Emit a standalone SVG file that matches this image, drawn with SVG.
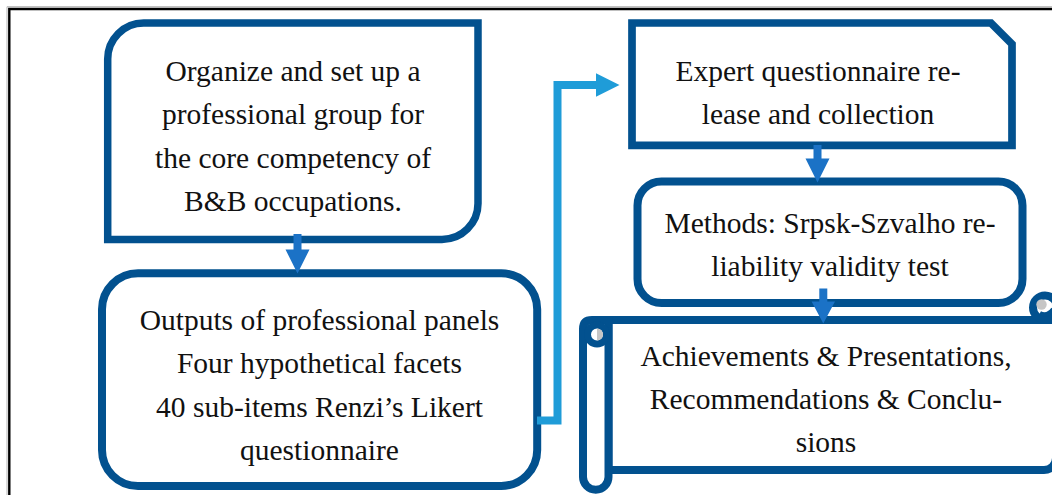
<svg xmlns="http://www.w3.org/2000/svg" width="1052" height="495" viewBox="0 0 1052 495">
  <style>
    .frame-shade { fill: none; stroke: #b4b4b4; stroke-width: 1; }
    .frame { fill: none; stroke: #000; stroke-width: 2.4; }
    .box { fill: #fff; stroke: #02518f; stroke-width: 8; stroke-linejoin: miter; }
    .label { font-family: "Liberation Serif", "Times New Roman", serif; font-size: 29.5px; fill: #111; text-anchor: middle; }
    .flow { fill: #1b72c6; }
    .feed { fill: none; stroke: #1f9cd8; stroke-width: 8; stroke-linejoin: miter; }
    .feed-head { fill: #1f9cd8; }
    .curl-shade { fill: #c6c6c6; }
  </style>

  <rect width="1052" height="495" fill="#fff"/>

  <!-- outer frame -->
  <path class="frame-shade" d="M7,495 V6.7 H1052"/>
  <path class="frame" d="M9.3,495 V9 H1052"/>

  <!-- step 1: expert group -->
  <g id="node-organize">
    <path class="box" style="stroke-width:7.5" d="M107.7,59 A36,36 0 0 1 143.7,23 H478 V203.5 A36,36 0 0 1 442,239.5 H107.7 Z"/>
    <text class="label" x="293" y="81">Organize and set up a</text>
    <text class="label" x="293" y="124.3">professional group for</text>
    <text class="label" x="293" y="167.7">the core competency of</text>
    <text class="label" x="293" y="211">B&amp;B occupations.</text>
  </g>

  <!-- step 2: panel outputs -->
  <g id="node-outputs">
    <rect class="box" x="102" y="273.3" width="435.2" height="212.7" rx="36" ry="36"/>
    <text class="label" x="319.5" y="329.5">Outputs of professional panels</text>
    <text class="label" x="319.5" y="373">Four hypothetical facets</text>
    <text class="label" x="319.5" y="416.5">40 sub-items Renzi’s Likert</text>
    <text class="label" x="319.5" y="460">questionnaire</text>
  </g>

  <!-- step 3: questionnaire release -->
  <g id="node-release">
    <path class="box" style="stroke-width:7.7" d="M632,23 H991 L1012,44 V145.3 H632 Z"/>
    <text class="label" x="818" y="80.5">Expert questionnaire re-</text>
    <text class="label" x="818" y="123.5">lease and collection</text>
  </g>

  <!-- step 4: reliability / validity methods -->
  <g id="node-methods">
    <rect class="box" x="637.5" y="181.5" width="385" height="121.5" rx="24" ry="24"/>
    <text class="label" x="830" y="232.5">Methods: Srpsk-Szvalho re-</text>
    <text class="label" x="830" y="276">liability validity test</text>
  </g>

  <!-- step 5: results scroll -->
  <g id="node-results">
    <path class="box" d="M608.5,320 H1056 V458 A12,12 0 0 1 1044,470 H608.5 Z"/>
    <path class="box" d="M608.5,320 H592 Q583,320 583,329 V477 A12.75,12.75 0 0 0 608.5,477 Z"/>
    <circle class="box" style="stroke-width:7" cx="597" cy="334.5" r="9.5"/>
    <path class="curl-shade" d="M597,328.5 A6,6 0 0 1 597,340.5 Z"/>
    <circle class="box" cx="1045" cy="307.5" r="12"/>
    <circle class="curl-shade" cx="1041.5" cy="304.5" r="5.2"/>
    <path d="M1040,313 Q1047,317 1053,309" fill="none" stroke="#02518f" stroke-width="4"/>
    <text class="label" x="826" y="366">Achievements &amp; Presentations,</text>
    <text class="label" x="826" y="409">Recommendations &amp; Conclu-</text>
    <text class="label" x="826" y="452">sions</text>
  </g>

  <!-- connectors -->
  <g id="connectors">
    <polygon class="flow" points="293.5,234 301.5,234 301.5,249.5 309.5,249.5 297.5,273.5 285.5,249.5 293.5,249.5"/>
    <polygon class="flow" points="813.5,145 821.5,145 821.5,158.5 829.5,158.5 817.5,182.5 805.5,158.5 813.5,158.5"/>
    <polygon class="flow" points="819.3,288.5 827.3,288.5 827.3,301.5 835,301.5 823.3,323.5 811.6,301.5 819.3,301.5"/>
    <polyline class="feed" points="537,420.5 557.5,420.5 557.5,85 597,85"/>
    <polygon class="feed-head" points="596,73.3 619.5,85 596,96.7"/>
  </g>
</svg>
